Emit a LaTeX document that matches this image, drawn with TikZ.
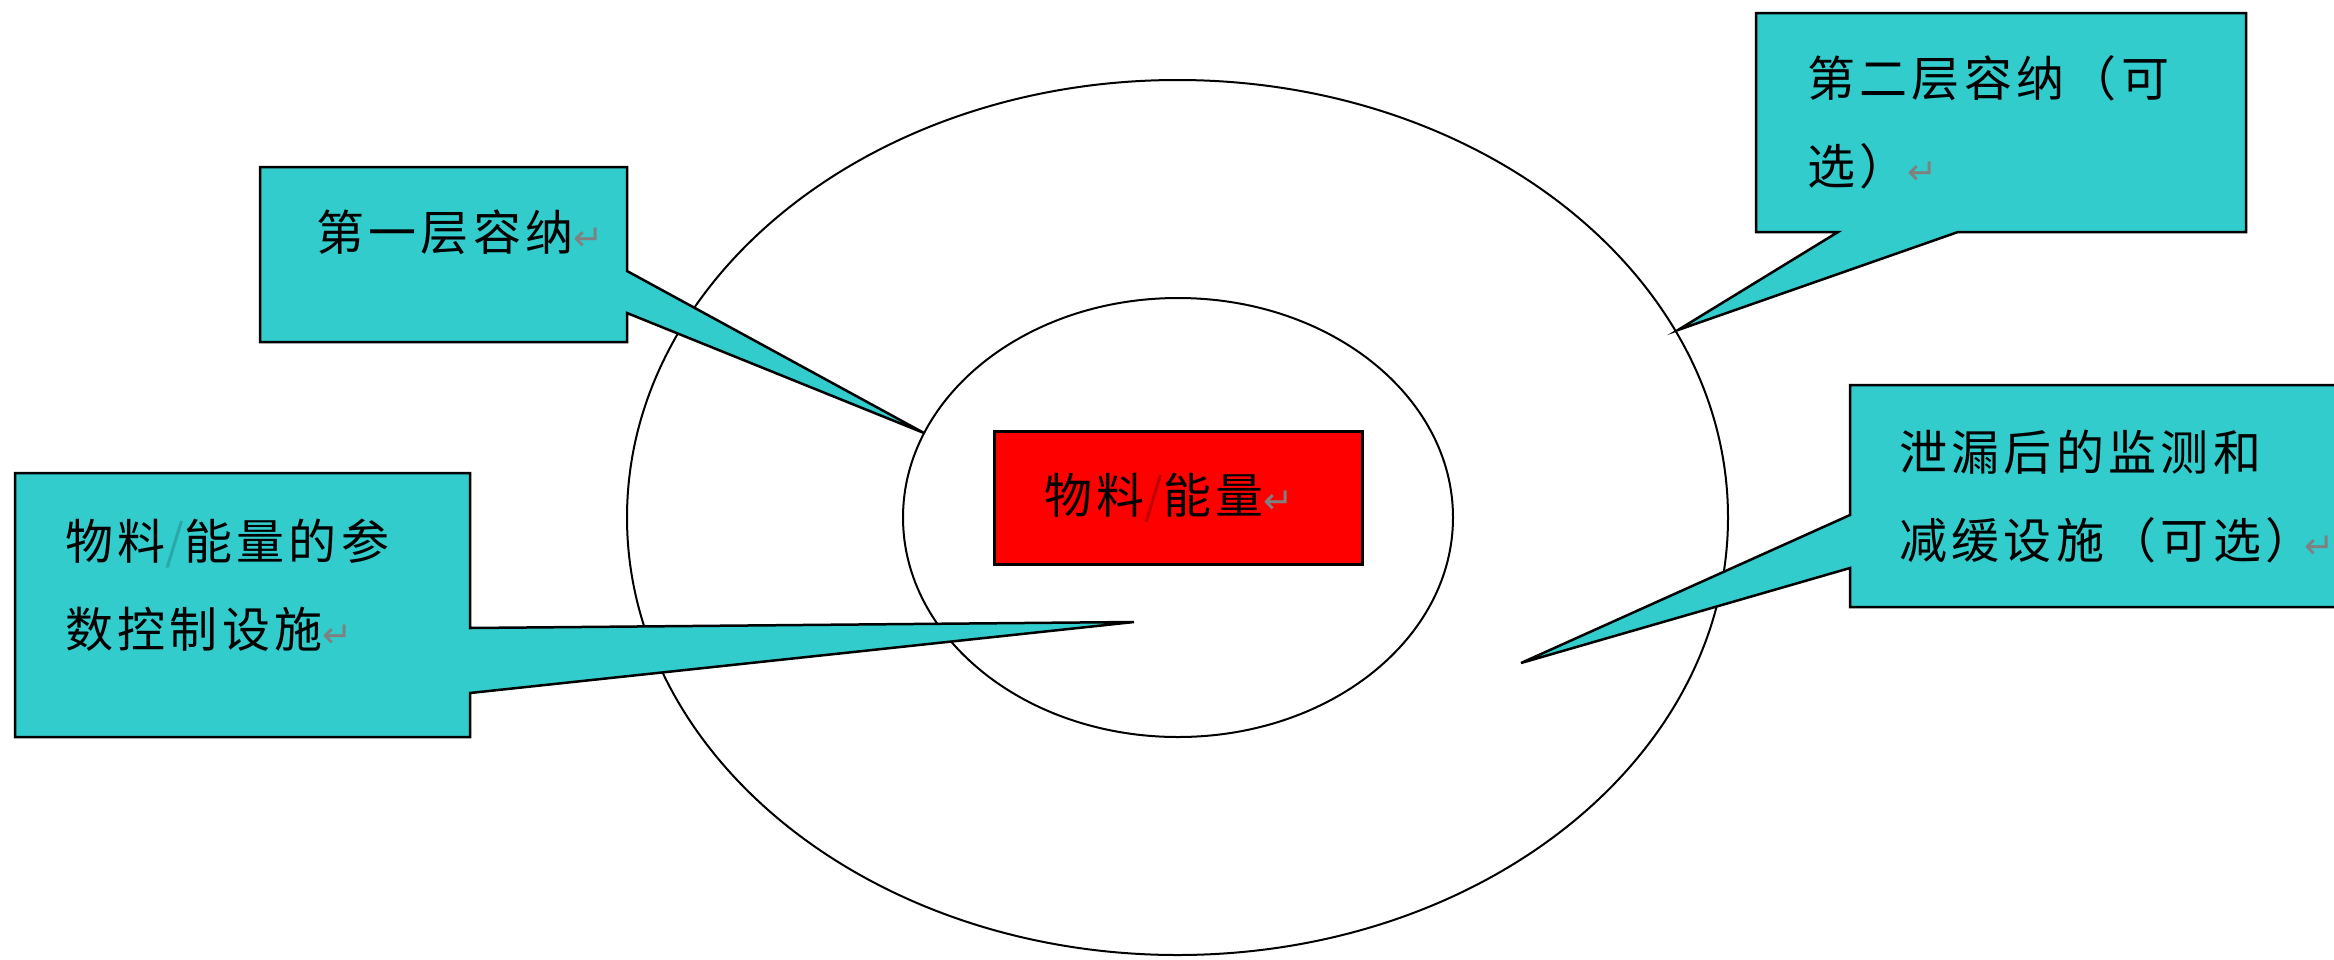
\documentclass[tikz,border=0pt]{standalone}
\usepackage{fontspec}
\newfontfamily\cjk[LetterSpace=9]{Noto Sans CJK SC}
\newfontfamily\symf{DejaVu Sans}
\definecolor{calloutcyan}{HTML}{33CCCC}
\definecolor{markgray}{HTML}{808080}
\definecolor{slashred}{HTML}{C00000}
\definecolor{slashteal}{HTML}{2AA8A8}
\newcommand{\pmark}{{\symf\fontsize{36}{36}\selectfont\textcolor{markgray}{↵}}}
\begin{document}
\begin{tikzpicture}[x=1pt,y=-1pt,
  callout/.style={fill=calloutcyan, draw=black, line width=2.5pt, line join=miter},
  frame/.style={rectangle, inner sep=0pt, outer sep=0pt, anchor=north west},
  ctext/.style={anchor=base west, inner sep=0pt, align=left, font=\cjk\fontsize{48}{88}\selectfont},
  ring/.style={draw=black, line width=2pt}]
\useasboundingbox (0,0) rectangle (2334,959);
\fill[white] (0,0) rectangle (2334,959);
% rings
\draw[ring] (1177.5,517.5) ellipse [x radius=550.5, y radius=437.5];
\draw[ring] (1178,517.5) ellipse [x radius=275, y radius=219.5];
% callout 1
\node[frame, minimum width=367pt, minimum height=175pt] (b1) at (260,167) {};
\coordinate (t1) at (924,433);
\draw[callout] (b1.north west) -- (b1.north east) -- ([yshift=-104pt]b1.north east) -- (t1)
  -- ([yshift=-146pt]b1.north east) -- (b1.south east) -- (b1.south west) -- cycle;
\node[ctext] (l1) at (316,250) {第一层容纳\pmark};
% callout 2
\node[frame, minimum width=490pt, minimum height=219pt] (b2) at (1756,13) {};
\coordinate (t2) at (1678,330);
\draw[callout] (b2.north west) -- (b2.north east) -- (b2.south east) -- ([xshift=202pt]b2.south west)
  -- (t2) -- ([xshift=82pt]b2.south west) -- (b2.south west) -- cycle;
\node[ctext] (l2) at (1807,184) {第二层容纳（可\\选）\pmark};
% callout 3
\node[frame, minimum width=455pt, minimum height=264pt] (b3) at (15,473) {};
\coordinate (t3) at (1134,622);
\draw[callout] (b3.north west) -- (b3.north east) -- ([yshift=-155pt]b3.north east) -- (t3)
  -- ([yshift=-220pt]b3.north east) -- (b3.south east) -- (b3.south west) -- cycle;
\node[ctext] (l3) at (65,647) {物料{\color{slashteal}/}能量的参\\数控制设施\pmark};
% callout 4
\node[frame, minimum width=486pt, minimum height=222pt] (b4) at (1850,385) {};
\coordinate (t4) at (1521,663);
\draw[callout] (b4.north west) -- (b4.north east) -- (b4.south east) -- (b4.south west)
  -- ([yshift=-183pt]b4.north west) -- (t4) -- ([yshift=-130pt]b4.north west) -- cycle;
\node[ctext] (l4) at (1899,558) {泄漏后的监测和\\减缓设施（可选）\hspace{-9pt}\pmark};
% centre box
\node[anchor=north west, draw=black, line width=3pt, fill=red, minimum width=368pt,
  minimum height=133pt, inner xsep=50pt, inner ysep=0pt, text width=268pt, align=left,
  font=\cjk\fontsize{48}{88}\selectfont] (core) at (993,430) {物料{\color{slashred}/}能量\pmark};
\end{tikzpicture}
\end{document}
